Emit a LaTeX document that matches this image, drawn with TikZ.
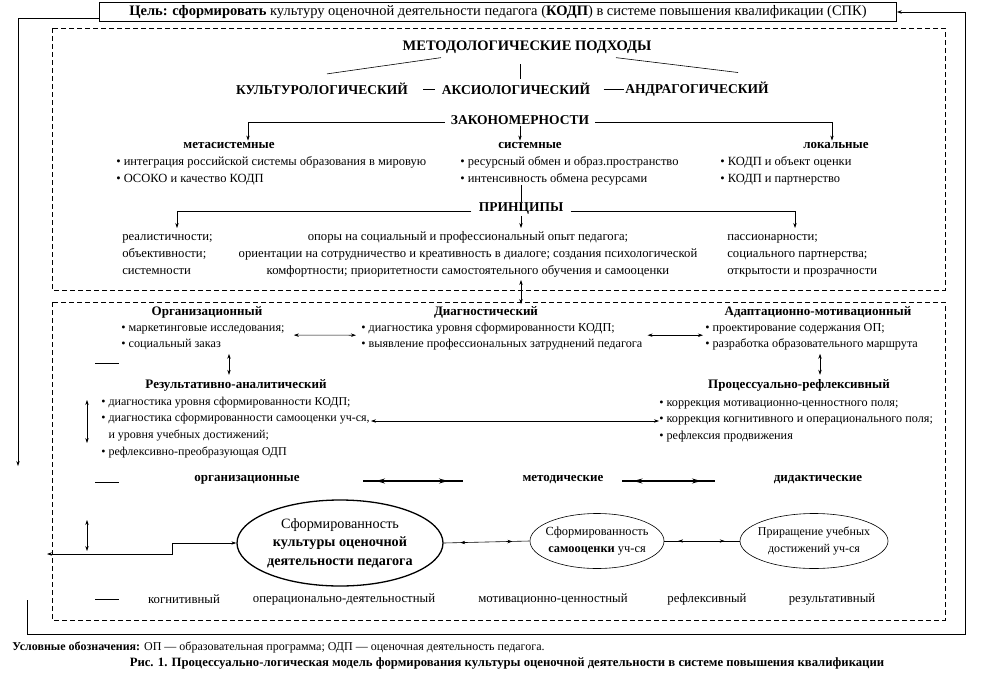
\documentclass[tikz,border=0pt]{standalone}
\usepackage{fontspec}
\setmainfont{Liberation Serif}
\usetikzlibrary{arrows.meta, positioning, calc, decorations.markings, shapes.geometric}

\begin{document}
\begin{tikzpicture}[
    x=1pt, y=-1pt, line width=0.6pt,
    >={Stealth[length=5pt, width=3.4pt]},
    hdr/.style={font=\fontsize{13.5}{15}\selectfont\bfseries, inner sep=1pt},
    subhdr/.style={font=\fontsize{13}{15}\selectfont\bfseries, inner sep=1pt},
    blist/.style={font=\fontsize{12.5}{17}\selectfont, align=left, anchor=north west, inner sep=0pt},
    plist/.style={blist, font=\fontsize{12.7}{16.6}\selectfont},
    slist/.style={blist, font=\fontsize{12}{16.8}\selectfont},
    plain/.style={font=\fontsize{12.8}{14}\selectfont, inner sep=1pt},
    frame/.style={draw, dash pattern=on 5pt off 3pt},
    arr/.style={->},
    dbl/.style={<->},
    oval/.style={draw, ellipse, align=center, inner sep=0pt},
    lnk/.style={postaction={decorate}, decoration={markings,
        mark=at position 0.25 with {\arrow{<}}, mark=at position 0.8 with {\arrow{>}}}},
    lnkthick/.style={line width=1.4pt, postaction={decorate}, decoration={markings,
        mark=at position 0.22 with {\arrow{Stealth[length=9pt, width=5pt, reversed]}},
        mark=at position 0.85 with {\arrow{Stealth[length=9pt, width=5pt]}}}},
]
\useasboundingbox (0,0) rectangle (981,677);

% --- Goal and feedback loop ---
\node[draw, minimum width=797, minimum height=19, inner sep=0pt, font=\fontsize{14.5}{16}\selectfont] (goal) at (498,12)
    {\textbf{Цель: сформировать} культуру оценочной деятельности педагога (\textbf{КОДП}) в системе повышения квалификации (СПК)};
\coordinate (fbL) at (18,466);
\draw[arr] ([yshift=-6pt]goal.west) -| (fbL);
\coordinate (fbR) at (27,600);
\coordinate (fbC) at (965,634);
\draw[arr] (fbR) |- (fbC) |- (goal.east);

% --- Dashed frames ---
\draw[frame] (52,28) rectangle (945,290);
\draw[frame] (52,302) rectangle (945,620);

% --- Methodological approaches ---
\node[hdr, font=\fontsize{14.5}{16}\selectfont\bfseries] (mp) at (527,47) {МЕТОДОЛОГИЧЕСКИЕ ПОДХОДЫ};
\node[hdr] (cult) at (322,89) {КУЛЬТУРОЛОГИЧЕСКИЙ};
\node[hdr] (axio) at (516,89) {АКСИОЛОГИЧЕСКИЙ};
\node[hdr] (andr) at (697,89) {АНДРАГОГИЧЕСКИЙ};
\draw ($(mp.south)+(-86,3)$) -- ($(cult.north)+(5,-8)$);
\draw ($(mp.south)+(89,3)$) -- ($(andr.north)+(41,-8)$);
\draw ($(axio.north)+(4,-3)$) -- ++(0,-15);
\draw[shorten <=14pt, shorten >=6pt] (cult.east) -- (axio.west);
\draw[shorten <=12pt] (axio.east) -- (andr.west);

% --- Regularities ---
\node[hdr, inner xsep=6pt] (zak) at (520,120) {ЗАКОНОМЕРНОСТИ};
\draw ($(axio.south)+(4,0)$) -- ($(axio.south)+(4,0)$ |- zak.north);
\node[subhdr] (meta) at (229,145) {метасистемные};
\node[subhdr] (syst) at (530,145) {системные};
\node[subhdr] (loca) at (836,145) {локальные};
\draw[arr] ([yshift=-2pt]zak.west) -| ([xshift=19pt]meta.north);
\draw[arr] (zak.south) -- (zak.south |- syst.north);
\draw[arr] ([yshift=-2pt]zak.east) -| ([xshift=-4pt]loca.north);
\node[blist] (metaL) at (116,153) {\strut• интеграция российской системы образования в мировую\\• ОСОКО и качество КОДП};
\node[blist] (systL) at (460,153) {\strut• ресурсный обмен и образ.пространство\\• интенсивность обмена ресурсами};
\node[blist] (locaL) at (720,153) {\strut• КОДП и объект оценки\\• КОДП и партнерство};

% --- Principles ---
\node[hdr, inner xsep=7pt] (prin) at (521,209) {ПРИНЦИПЫ};
\draw (systL.south -| prin.north) -- (prin.north);
\coordinate (pLt) at (177,228);
\coordinate (pCt) at (521,228);
\coordinate (pRt) at (795,228);
\draw[arr] ([yshift=-2pt]prin.west) -| (pLt);
\draw[arr] (prin.south) -- (pCt);
\draw[arr] ([yshift=-2pt]prin.east) -| (pRt);
\node[plist] (pL) at (122,229) {\strut реалистичности;\\объективности;\\системности};
\node[plist, anchor=north, align=center] (pC) at (468,229) {\strut опоры на социальный и профессиональный опыт педагога;\\ориентации на сотрудничество и креативность в диалоге; создания психологической\\комфортности; приоритетности самостоятельного обучения и самооценки};
\node[plist] (pR) at (727,229) {\strut пассионарности;\\социального партнерства;\\открытости и прозрачности};
\coordinate (linkT) at (521,280);
\coordinate (linkB) at (521,304);
\draw[dbl] (linkT) -- (linkB);

% --- Stages of the model ---
\node[subhdr] (org) at (207,312) {Организационный};
\node[subhdr] (diag) at (486,312) {Диагностический};
\node[subhdr] (adap) at (818,312) {Адаптационно-мотивационный};
\node[slist, font=\fontsize{12.2}{16}\selectfont] (orgL) at (121,320) {\strut• маркетинговые исследования;\\• социальный заказ};
\node[slist, font=\fontsize{12.2}{16}\selectfont] (diagL) at (361,320) {\strut• диагностика уровня сформированности КОДП;\\• выявление профессиональных затруднений педагога};
\node[slist, font=\fontsize{12.2}{16}\selectfont] (adapL) at (705,320) {\strut• проектирование содержания ОП;\\• разработка образовательного маршрута};
\draw[dbl, shorten <=9pt, shorten >=5pt] (orgL.east) -- (diagL.west);
\draw[dbl, shorten <=5pt, shorten >=2pt] (diagL.east) -- (adapL.west);

\node[subhdr] (res) at (236,385) {Результативно-аналитический};
\node[subhdr] (proc) at (799,385) {Процессуально-рефлексивный};
\draw[dbl] ($(res.north)+(-7,-24)$) -- ($(res.north)+(-7,-3)$);
\draw[dbl] ($(proc.north)+(21,-24)$) -- ($(proc.north)+(21,-3)$);
\node[slist] (resL) at (101,393) {\strut• диагностика уровня сформированности КОДП;\\• диагностика сформированности самооценки уч-ся,\\\hspace*{0.6em}и уровня учебных достижений;\\• рефлексивно-преобразующая ОДП};
\node[slist, font=\fontsize{12.2}{16.8}\selectfont] (procL) at (659,394) {\strut• коррекция мотивационно-ценностного поля;\\• коррекция когнитивного и операционального поля;\\• рефлексия продвижения};
\coordinate (rsEnd) at (371,421);
\draw[dbl] (rsEnd) -- (rsEnd -| procL.west);
\coordinate (vA) at (87,400);
\draw[dbl] (vA) -- ++(0,43);

% --- Stubs at the left ---
\foreach \yy in {363,482,599}
  \draw (95,\yy) -- ++(24,0);

% --- Kinds of conditions ---
\node[subhdr] (orgT) at (247,480) {организационные};
\node[subhdr] (metT) at (563,480) {методические};
\node[subhdr] (didT) at (818,480) {дидактические};
\coordinate (r1a) at (363,481);
\coordinate (r1b) at (463,481);
\coordinate (r2a) at (622,481);
\coordinate (r2b) at (715,481);
\draw[lnkthick] (r1a) -- (r1b);
\draw[lnkthick] (r2a) -- (r2b);

% --- Results ---
\node[oval, line width=1.3pt, minimum width=206, minimum height=86, font=\fontsize{14.2}{18.5}\selectfont] (e1) at (340,543)
    {Сформированность\\\textbf{культуры оценочной}\\\textbf{деятельности педагога}};
\node[oval, inner xsep=-6pt, minimum width=134, minimum height=55, font=\fontsize{12.4}{17}\selectfont] (e2) at (597,541)
    {Сформированность\\\textbf{самооценки} уч-ся};
\node[oval, inner xsep=-6pt, minimum width=148, minimum height=55, font=\fontsize{12}{17}\selectfont] (e3) at (814,541)
    {Приращение учебных\\достижений уч-ся};
\draw[lnk] (e1.east) -- (e2.west);
\draw[lnk] (e2.east) -- (e3.west);
\coordinate (inL) at (47,554);
\coordinate (kink) at (172,554);
\draw[dbl] (inL) -- (kink) |- (e1.west);
\coordinate (vB) at (87,520);
\draw[dbl] (vB) -- ++(0,31);

% --- Components ---
\node[plain] (kog) at (184,599) {когнитивный};
\node[plain] (oper) at (344,599) {операционально-деятельностный};
\node[plain] (motiv) at (553,599) {мотивационно-ценностный};
\node[plain] (refl) at (707,599) {рефлексивный};
\node[plain] (rez) at (832,599) {результативный};

% --- Legend and caption ---
\node[font=\fontsize{12}{14}\selectfont, anchor=west, inner sep=0pt] (leg) at (12,647)
    {\textbf{Условные обозначения:} ОП — образовательная программа; ОДП — оценочная деятельность педагога.};
\node[font=\fontsize{12.7}{14}\selectfont\bfseries, inner sep=0pt] (cap) at (507,663)
    {Рис. 1. Процессуально-логическая модель формирования культуры оценочной деятельности в системе повышения квалификации};

\end{tikzpicture}
\end{document}
